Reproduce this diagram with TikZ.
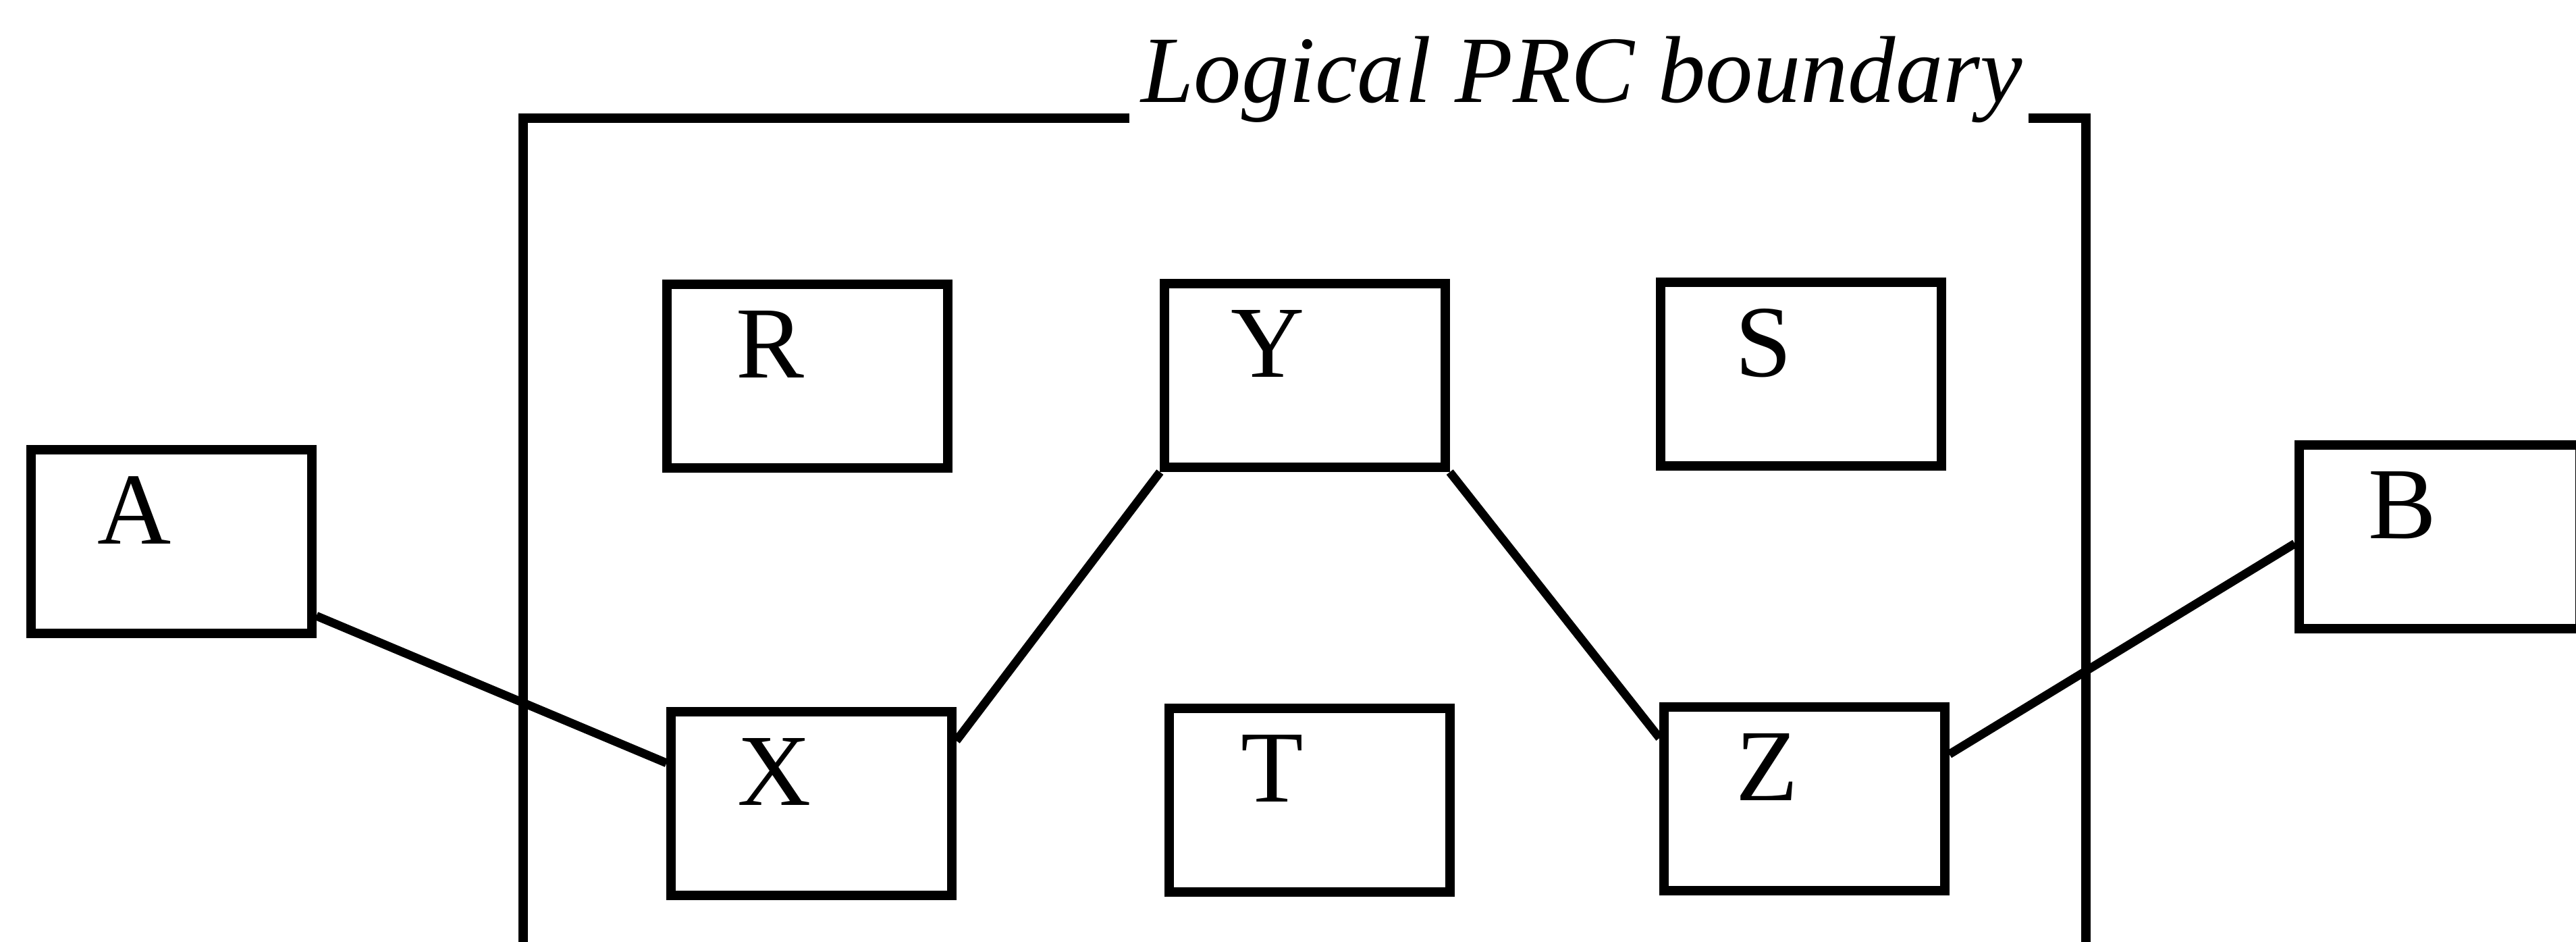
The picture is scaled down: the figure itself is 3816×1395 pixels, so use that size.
\documentclass[tikz,border=0pt]{standalone}
\usepackage{fontspec}
\setmainfont{Liberation Serif}
\tikzset{
  box/.style={draw, rectangle, minimum width=4.15cm, minimum height=2.72cm, inner sep=0pt, line width=4pt},
  tag/.style={label={[font=\fontsize{43}{50}\selectfont, anchor=north, inner sep=0pt, xshift=-0.55cm, yshift=-0.46cm]north:#1}},
  wire/.style={line width=3.6pt},
  bound/.style={line width=4pt},
}
\begin{document}
\begin{tikzpicture}[x=0.01cm, y=-0.01cm]
\useasboundingbox (0,0) rectangle (3816,1395);
\clip (0,0) rectangle (3816,1395);
\node[box, tag=A] (A) at (254,802) {};
\node[box, tag=R] (R) at (1196,557) {};
\node[box, tag=Y] (Y) at (1933,556) {};
\node[box, tag=S] (S) at (2668,554) {};
\node[box, tag=X] (X) at (1202,1190) {};
\node[box, tag=T] (T) at (1940,1185) {};
\node[box, tag=Z] (Z) at (2673,1183) {};
\node[box, tag=B] (B) at (3614,795) {};
\node[font=\fontsize{40}{48}\selectfont\itshape, anchor=base, inner sep=0pt] (lbl) at (2343,152) {Logical PRC boundary};
\coordinate (bl) at (775,1460);
\coordinate (tl) at (775,175);
\coordinate (gl) at (1673,175);
\coordinate (gr) at (3005,175);
\coordinate (tr) at (3090,175);
\coordinate (br) at (3090,1460);
\draw[bound] (gl) -- (tl) -- (bl);
\draw[bound] (gr) -- (tr) -- (br);
\draw[wire] ([yshift=0.33cm]A.south east) -- ([yshift=0.6cm]X.west);
\draw[wire] ([yshift=0.93cm]X.east) -- (Y.south west);
\draw[wire] (Y.south east) -- ([yshift=0.9cm]Z.west);
\draw[wire] ([yshift=0.66cm]Z.east) -- ([yshift=-0.1cm]B.west);
\end{tikzpicture}
\end{document}
